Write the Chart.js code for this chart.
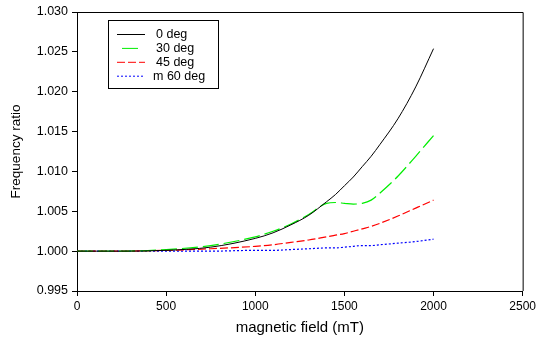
<!DOCTYPE html>
<html>
<head>
<meta charset="utf-8">
<script src="https://cdn.jsdelivr.net/npm/chart.js@4/dist/chart.umd.min.js"></script>
<style>
html, body { margin: 0; padding: 0; background: #fff; }
</style>
</head>
<body>
<canvas id="canvas" width="539" height="343"></canvas>
<script>
// magnetic field (mT) and frequency ratio per angle
const fieldMT = [0, 250, 500, 750, 1000, 1100, 1200, 1300, 1400, 1450, 1500, 1550, 1600, 1650, 1700, 1800, 1900, 2000];
const deg0  = [1.0000, 1.0000, 1.0001, 1.0005, 1.0016, 1.0023, 1.0033, 1.0045, 1.0062, 1.0071, 1.0082, 1.0093, 1.0106, 1.0119, 1.0134, 1.0166, 1.0206, 1.0254];
const deg30 = [1.0000, 1.0000, 1.0002, 1.0007, 1.0018, 1.0025, 1.0034, 1.0046, 1.0060, 1.0061, 1.0060, 1.0059, 1.0060, 1.0064, 1.0073, 1.0094, 1.0119, 1.0145];
const deg45 = [1.0000, 1.0000, 1.0001, 1.0003, 1.0006, 1.0008, 1.0011, 1.0014, 1.0018, 1.0020, 1.0022, 1.0025, 1.0028, 1.0031, 1.0035, 1.0044, 1.0054, 1.0064];
const deg60 = [1.0000, 1.0000, 1.0000, 1.0000, 1.0001, 1.0001, 1.0002, 1.0003, 1.0004, 1.0004, 1.0005, 1.0006, 1.0007, 1.0007, 1.0008, 1.0010, 1.0012, 1.0015];
const seriesLabels = ['0 deg', '30 deg', '45 deg', 'm 60 deg'];

const FONT = '"Liberation Sans", Arial, sans-serif';

const pts = (vals) => fieldMT.map((x, i) => ({x: x, y: vals[i]}));

// top and right sides of the frame
const frame = {
  id: 'frame',
  afterDraw(chart) {
    const {ctx, chartArea: a} = chart;
    ctx.save();
    ctx.strokeStyle = '#000';
    ctx.lineWidth = 1;
    ctx.beginPath();
    ctx.moveTo(a.left, a.top + 0.5);
    ctx.lineTo(a.right + 0.5, a.top + 0.5);
    ctx.lineTo(a.right + 0.5, a.bottom);
    ctx.stroke();
    ctx.restore();
  }
};

// boxed legend inside the plot
const boxLegend = {
  id: 'boxLegend',
  afterDraw(chart) {
    const ctx = chart.ctx;
    ctx.save();
    ctx.strokeStyle = '#000';
    ctx.lineWidth = 1;
    ctx.strokeRect(108.5, 20.5, 110, 68);
    chart.data.datasets.forEach((ds, i) => {
      const y = 34.5 + i * 13.9;
      ctx.strokeStyle = ds.borderColor;
      ctx.setLineDash(ds.borderDash || []);
      ctx.lineDashOffset = i == 1 ? 16 : 0;
      ctx.beginPath();
      ctx.moveTo(117, y);
      ctx.lineTo(i == 1 ? 143 : 145, y);
      ctx.stroke();
      ctx.setLineDash([]);
      ctx.fillStyle = '#000';
      ctx.font = '12.5px ' + FONT;
      ctx.textBaseline = 'middle';
      ctx.fillText(ds.label, i == 3 ? 153 : 156, y);
    });
    ctx.restore();
  }
};

const canvas = document.getElementById('canvas');
new Chart(canvas, {
  type: 'line',
  data: {
    datasets: [
      { label: seriesLabels[0], data: pts(deg0),  borderColor: '#000000', borderWidth: 1 },
      { label: seriesLabels[1], data: pts(deg30), borderColor: '#00ee00', borderWidth: 1.2, borderDash: [16, 5] },
      { label: seriesLabels[2], data: pts(deg45), borderColor: '#ff0000', borderWidth: 1.2, borderDash: [8, 3] },
      { label: seriesLabels[3], data: pts(deg60), borderColor: '#0000ff', borderWidth: 1.2, borderDash: [2, 2] }
    ]
  },
  options: {
    responsive: false,
    animation: false,
    layout: { padding: { top: 12, right: 16, left: 0, bottom: 0 } },
    elements: {
      point: { radius: 0 },
      line: { cubicInterpolationMode: 'monotone', fill: false }
    },
    plugins: { legend: { display: false }, tooltip: { enabled: false } },
    scales: {
      x: {
        type: 'linear',
        min: 0, max: 2500,
        afterFit: (s) => { s.height = 52; },
        ticks: { stepSize: 500, color: '#000', padding: 3, maxRotation: 0, font: { family: FONT, size: 12 },
                 callback: (v) => String(v) },
        grid: { drawOnChartArea: false, color: '#000', tickLength: 5 },
        border: { color: '#000', width: 1 },
        title: { display: true, text: 'magnetic field (mT)', color: '#000', font: { family: FONT, size: 15 }, padding: { top: 0, bottom: 6 } }
      },
      y: {
        min: 0.995, max: 1.030,
        afterFit: (s) => { s.width = 77; },
        ticks: { stepSize: 0.005, color: '#000', padding: 4, font: { family: FONT, size: 12.5 },
                 callback: (v) => v.toFixed(3) },
        grid: { drawOnChartArea: false, color: '#000', tickLength: 5 },
        border: { color: '#000', width: 1 },
        title: { display: true, text: 'Frequency ratio', color: '#000', font: { family: FONT, size: 13.5 }, padding: { top: 8, bottom: 0 } }
      }
    }
  },
  plugins: [frame, boxLegend]
});
</script>
</body>
</html>
